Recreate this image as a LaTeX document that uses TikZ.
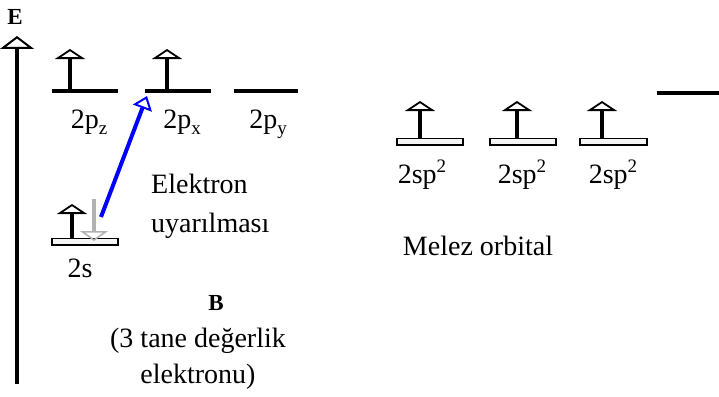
\documentclass[tikz,border=0pt]{standalone}
\usepackage{fontspec}
\setmainfont{Liberation Serif}
\usetikzlibrary{arrows.meta}
\newcommand{\sbs}[1]{\raisebox{-0.22em}{\fontsize{19}{20}\selectfont #1}}
\newcommand{\sps}[1]{\raisebox{0.38em}{\fontsize{19}{20}\selectfont #1}}
\begin{document}
\begin{tikzpicture}[x=1pt,y=-1pt,
  txt/.style={font=\fontsize{28}{32}\selectfont, inner sep=0pt, anchor=base},
  lbl/.style={font=\fontsize{28}{32}\selectfont, inner sep=0pt, anchor=base},
  bold/.style={font=\fontsize{23}{26}\selectfont\bfseries, inner sep=0pt, anchor=base},
  level/.style={line width=4.5pt},
  hollow/.style={draw=black, line width=1.6pt, fill=gray!8},
  spin/.style={line width=4pt, -{Triangle[open, length=10pt, width=30pt, line width=1.8pt]}},
  downspin/.style={line width=4pt, draw=gray!60, -{Triangle[open, length=10pt, width=28pt, line width=1.6pt]}},
  axisarr/.style={line width=4.5pt, -{Triangle[open, length=13pt, width=34pt, line width=2pt]}},
  excite/.style={line width=4pt, draw=blue, -{Triangle[open, length=13pt, width=20pt, line width=2pt]}}
]
\useasboundingbox (0,0) rectangle (719,396);
% energy axis
\coordinate (axb) at (17,384);
\coordinate (axt) at (17,36);
\draw[axisarr] (axb) -- (axt);
\node[bold] (E) at (15,25) {E};
% 2p levels
\draw[level] (52,91) coordinate (pzl) -- (118,91) coordinate (pzr);
\draw[level] (145,91) coordinate (pxl) -- (211,91) coordinate (pxr);
\draw[level] (234,91) coordinate (pyl) -- (298,91) coordinate (pyr);
\coordinate (pzb) at (70,91); \coordinate (pzt) at (70,49);
\coordinate (pxb) at (167,91); \coordinate (pxt) at (167,49);
\draw[spin] (pzb) -- (pzt);
\draw[spin] (pxb) -- (pxt);
\node[lbl] (lpz) at (89,128) {2p\sbs{z}};
\node[lbl] (lpx) at (182,128) {2p\sbs{x}};
\node[lbl] (lpy) at (268,128) {2p\sbs{y}};
% 2s level
\draw[hollow] (52,238.5) rectangle (118,245);
\coordinate (sb) at (72,238); \coordinate (st) at (72,204);
\draw[spin] (sb) -- (st);
\coordinate (gt) at (94,199); \coordinate (gb) at (94,241);
\draw[downspin] (gt) -- (gb);
\node[lbl] (l2s) at (80,277) {2s};
% excitation
\coordinate (ex1) at (101,217);
\coordinate (ex2) at (147,96);
\draw[excite] (ex1) -- (ex2);
\node[txt, anchor=base west] (el1) at (151,193) {Elektron};
\node[txt, anchor=base west] (el2) at (151,232) {uyarılması};
% B
\node[bold] (B) at (216,310) {B};
\node[txt] (v1) at (198,347) {(3 tane değerlik};
\node[txt] (v2) at (198,383) {elektronu)};
% sp2 levels
\draw[hollow] (397,138.5) rectangle (463,145);
\draw[hollow] (490,138.5) rectangle (556,145);
\draw[hollow] (580,138.5) rectangle (647,145);
\coordinate (a1b) at (420,138); \coordinate (a1t) at (420,101);
\coordinate (a2b) at (517,138); \coordinate (a2t) at (517,101);
\coordinate (a3b) at (602,138); \coordinate (a3t) at (602,101);
\draw[spin] (a1b) -- (a1t);
\draw[spin] (a2b) -- (a2t);
\draw[spin] (a3b) -- (a3t);
\node[lbl] (h1) at (422,183) {2sp\sps{2}};
\node[lbl] (h2) at (522,183) {2sp\sps{2}};
\node[lbl] (h3) at (613,183) {2sp\sps{2}};
\draw[level] (657,93) coordinate (rl) -- (719,93) coordinate (rr);
\node[txt] (mel) at (478,255) {Melez orbital};
\end{tikzpicture}
\end{document}
